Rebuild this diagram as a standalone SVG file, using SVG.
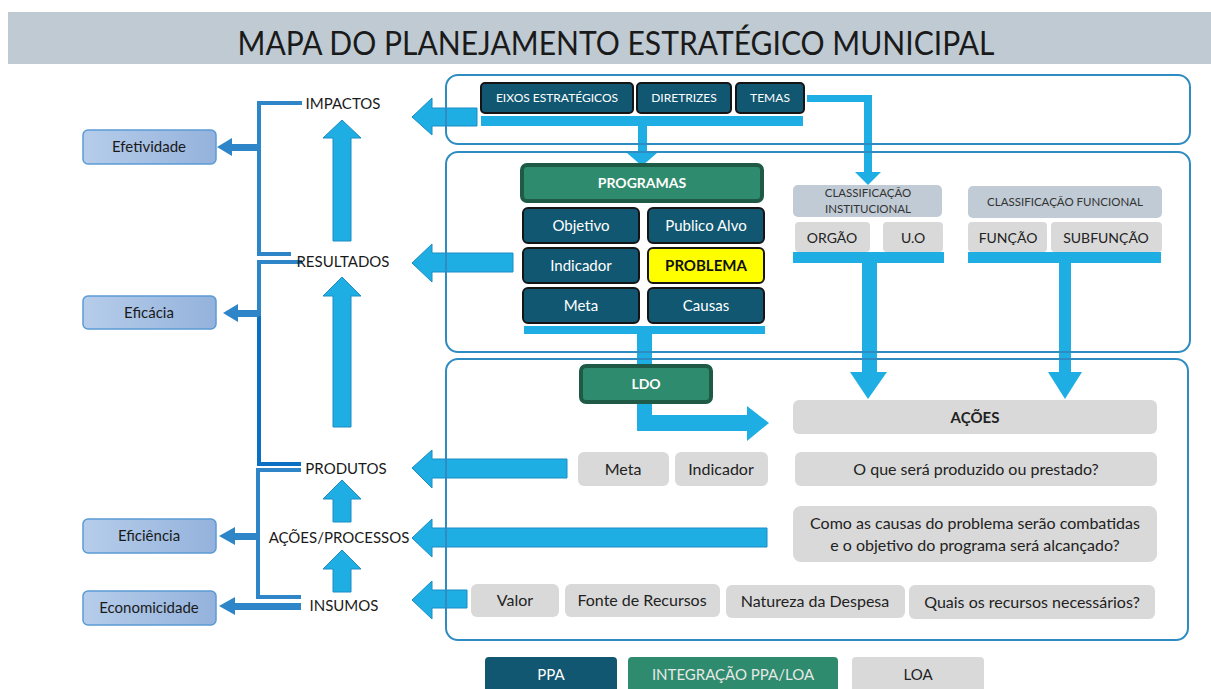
<svg xmlns="http://www.w3.org/2000/svg" width="1211" height="689" viewBox="0 0 1211 689">
<defs>
<linearGradient id="gb" x1="0" y1="0" x2="1" y2="0"><stop offset="0" stop-color="#b6cdea"/><stop offset="1" stop-color="#94b2dc"/></linearGradient>
<style>
text{font-family:Lato,"Open Sans","Liberation Sans",sans-serif;text-anchor:middle}
.panel{fill:none;stroke:#2f8cc2;stroke-width:2}
.pfill{fill:#fff}
.dk{fill:#115772;stroke:#151515;stroke-width:2}
.gr{fill:#2f8b6d;stroke:#1e5a45;stroke-width:4}
.lg{fill:#d9d9d9}
.bg{fill:#c0cbd5}
.wt{fill:#fff;font-size:15px}
.bk{fill:#222;font-size:16px}
.bar{fill:#1eaee4}
.big{fill:#1eaee4;stroke:#1a8cc2;stroke-width:1}
.br{fill:none;stroke:#2e86c9;stroke-width:4}
.bra{fill:#2e86c9}
.eb{fill:url(#gb);stroke:#5b9bd5;stroke-width:1.5}
.lbl{fill:#1a1a1a;font-size:15px}
</style>
</defs>
<rect x="8" y="12" width="1203" height="52" fill="#bfcad3"/>
<text x="616" y="55" font-size="32" fill="#1a1a1a" textLength="757" lengthAdjust="spacingAndGlyphs">MAPA DO PLANEJAMENTO ESTRATÉGICO MUNICIPAL</text>

<g id="panels-bg">
<rect class="pfill" x="446" y="75" width="744" height="69" rx="12"/>
<rect class="pfill" x="446" y="152" width="744" height="200" rx="12"/>
<rect class="pfill" x="446" y="359" width="742" height="281" rx="12"/>
</g>

<g id="connectors">
<path class="br" d="M302,103 H259 V254 H291"/>
<path class="br" d="M302,262 H259 V318"/>
<path fill="none" stroke="#0a70c4" stroke-width="4" d="M259,316 V464 H301"/>
<path class="br" d="M301,470 H258 V597 H301"/>
<rect class="bra" x="232" y="144" width="27" height="7"/><polygon class="bra" points="232,138 217,147 232,156"/>
<rect class="bra" x="238" y="310" width="21" height="7"/><polygon class="bra" points="238,304 223,313 238,322"/>
<rect class="bra" x="235" y="533" width="23" height="7"/><polygon class="bra" points="235,527 219,536 235,545"/>
<rect class="bra" x="235" y="603" width="66" height="7"/><polygon class="bra" points="235,597 219,606 235,615"/>
<polygon class="big" points="333,241 333,138 323,138 342,120 361,138 351,138 351,241"/>
<polygon class="big" points="333,427 333,296 323,296 342,277 361,296 351,296 351,427"/>
<polygon class="big" points="333,522 333,499 323,499 342,480 361,499 351,499 351,522"/>
<polygon class="big" points="333,592 333,569 323,569 342,550 361,569 351,569 351,592"/>
<polygon class="big" points="477,108 432,108 432,98 412,117 432,135 432,126 477,126"/>
<polygon class="big" points="513,253 432,253 432,244 412,263 432,282 432,272 513,272"/>
<polygon class="big" points="567,459 432,459 432,450 412,468 432,488 432,478 567,478"/>
<polygon class="big" points="767,528 432,528 432,519 412,538 432,557 432,547 767,547"/>
<polygon class="big" points="467,590 432,590 432,581 412,600 432,619 432,608 467,608"/>
<rect class="bar" x="481" y="116" width="322" height="10"/>
<rect class="bar" x="638" y="126" width="9" height="28"/>
<polygon class="bar" points="627,153 657,153 642,166"/>
<rect class="bar" x="807" y="95" width="65" height="7"/>
<rect class="bar" x="864" y="95" width="8" height="78"/>
<polygon class="bar" points="855,172 881,172 868,185"/>
<rect class="bar" x="524" y="326" width="241" height="8"/>
<rect class="bar" x="637" y="334" width="15" height="30"/>
<path class="bar" d="M637,403 H652 V415 H747 V406 L769,423 L747,441 V431 H637 Z"/>
<rect class="bar" x="793" y="252" width="151" height="11"/>
<rect class="bar" x="862" y="263" width="15" height="110"/>
<polygon class="bar" points="850,372 887,372 868,399"/>
<rect class="bar" x="968" y="252" width="193" height="11"/>
<rect class="bar" x="1059" y="263" width="12" height="110"/>
<polygon class="bar" points="1048,372 1082,372 1065,399"/>
</g>

<g id="panels">
<rect class="panel" x="446" y="75" width="744" height="69" rx="12"/>
<rect class="panel" x="446" y="152" width="744" height="200" rx="12"/>
<rect class="panel" x="446" y="359" width="742" height="281" rx="12"/>
</g>

<g id="n-eixos"><rect class="dk" x="481" y="83" width="152" height="30" rx="4"/><text class="wt" x="557" y="102" style="font-size:12px">EIXOS ESTRATÉGICOS</text></g>
<g id="n-diretrizes"><rect class="dk" x="637" y="83" width="94" height="30" rx="4"/><text class="wt" x="684" y="102" style="font-size:12px">DIRETRIZES</text></g>
<g id="n-temas"><rect class="dk" x="736" y="83" width="68" height="30" rx="4"/><text class="wt" x="770" y="102" style="font-size:12px">TEMAS</text></g>

<g id="n-programas"><rect class="gr" x="522" y="165" width="240" height="36" rx="5"/><text class="wt" x="642" y="188" font-weight="bold" style="font-size:14px">PROGRAMAS</text></g>
<g id="n-objetivo"><rect class="dk" x="523" y="208" width="116" height="35" rx="5"/><text class="wt" x="581" y="231">Objetivo</text></g>
<g id="n-publico"><rect class="dk" x="648" y="208" width="116" height="35" rx="5"/><text class="wt" x="706" y="231">Publico Alvo</text></g>
<g id="n-indicador"><rect class="dk" x="523" y="248" width="116" height="35" rx="5"/><text class="wt" x="581" y="271">Indicador</text></g>
<g id="n-problema"><rect x="648" y="248" width="116" height="35" rx="5" fill="#ffff00" stroke="#151515" stroke-width="2"/><text x="706" y="271" font-weight="bold" fill="#111" style="font-size:15px">PROBLEMA</text></g>
<g id="n-meta"><rect class="dk" x="523" y="288" width="116" height="35" rx="5"/><text class="wt" x="581" y="311">Meta</text></g>
<g id="n-causas"><rect class="dk" x="648" y="288" width="116" height="35" rx="5"/><text class="wt" x="706" y="311">Causas</text></g>

<g id="n-class-inst"><rect class="bg" x="793" y="185" width="149" height="32" rx="5"/><text x="868" y="197" fill="#333" style="font-size:11.5px">CLASSIFICAÇÃO</text><text x="868" y="213" fill="#333" style="font-size:11.5px">INSTITUCIONAL</text></g>
<g id="n-class-func"><rect class="bg" x="968" y="186" width="194" height="32" rx="5"/><text x="1065" y="206" fill="#333" style="font-size:11.5px">CLASSIFICAÇÃO FUNCIONAL</text></g>
<g id="n-orgao"><rect class="lg" x="795" y="222" width="75" height="30" rx="4"/><text class="bk" x="832" y="243" style="font-size:14px">ORGÃO</text></g>
<g id="n-uo"><rect class="lg" x="883" y="222" width="60" height="30" rx="4"/><text class="bk" x="913" y="243" style="font-size:14px">U.O</text></g>
<g id="n-funcao"><rect class="lg" x="968" y="222" width="79" height="30" rx="4"/><text class="bk" x="1008" y="243" style="font-size:14px">FUNÇÃO</text></g>
<g id="n-subfuncao"><rect class="lg" x="1051" y="222" width="111" height="30" rx="4"/><text class="bk" x="1106" y="243" style="font-size:14px">SUBFUNÇÃO</text></g>

<g id="n-ldo"><rect class="gr" x="581" y="366" width="130" height="36" rx="5"/><text class="wt" x="646" y="389" font-weight="bold" style="font-size:14px">LDO</text></g>
<g id="n-acoes"><rect class="lg" x="793" y="400" width="364" height="34" rx="6"/><text class="bk" x="975" y="423" font-weight="bold" style="font-size:15px">AÇÕES</text></g>
<g id="n-meta2"><rect class="lg" x="578" y="452" width="91" height="34" rx="6"/><text class="bk" x="623" y="475">Meta</text></g>
<g id="n-indicador2"><rect class="lg" x="675" y="452" width="93" height="34" rx="6"/><text class="bk" x="721" y="475">Indicador</text></g>
<g id="n-oque"><rect class="lg" x="795" y="452" width="362" height="34" rx="6"/><text class="bk" x="976" y="475">O que será produzido ou prestado?</text></g>
<g id="n-como"><rect class="lg" x="793" y="506" width="364" height="56" rx="8"/><text class="bk" x="975" y="529">Como as causas do problema serão combatidas</text><text class="bk" x="975" y="551">e o objetivo do programa será alcançado?</text></g>
<g id="n-valor"><rect class="lg" x="471" y="584" width="88" height="33" rx="6"/><text class="bk" x="515" y="606">Valor</text></g>
<g id="n-fonte"><rect class="lg" x="565" y="584" width="155" height="33" rx="6"/><text class="bk" x="642" y="606">Fonte de Recursos</text></g>
<g id="n-natureza"><rect class="lg" x="726" y="585" width="179" height="33" rx="6"/><text class="bk" x="815" y="607">Natureza da Despesa</text></g>
<g id="n-quais"><rect class="lg" x="909" y="585" width="246" height="34" rx="6"/><text class="bk" x="1032" y="608">Quais os recursos necessários?</text></g>

<g id="n-impactos"><text class="lbl" x="343" y="109">IMPACTOS</text></g>
<g id="n-resultados"><text class="lbl" x="343" y="267">RESULTADOS</text></g>
<g id="n-produtos"><text class="lbl" x="346" y="474">PRODUTOS</text></g>
<g id="n-acoesproc"><text class="lbl" x="339" y="543">AÇÕES/PROCESSOS</text></g>
<g id="n-insumos"><text class="lbl" x="344" y="611">INSUMOS</text></g>

<g id="n-efetividade"><rect class="eb" x="83" y="130" width="133" height="34" rx="5"/><text class="lbl" x="149" y="152">Efetividade</text></g>
<g id="n-eficacia"><rect class="eb" x="83" y="296" width="133" height="33" rx="5"/><text class="lbl" x="149" y="318">Eficácia</text></g>
<g id="n-eficiencia"><rect class="eb" x="83" y="519" width="133" height="34" rx="5"/><text class="lbl" x="149" y="541">Eficiência</text></g>
<g id="n-economicidade"><rect class="eb" x="83" y="591" width="133" height="34" rx="5"/><text class="lbl" x="149" y="613">Economicidade</text></g>

<g id="legend">
<rect x="485" y="657" width="132" height="40" rx="4" fill="#115772"/><text x="551" y="680" fill="#fff" style="font-size:15px">PPA</text>
<rect x="628" y="657" width="210" height="40" rx="4" fill="#2f8b6d"/><text x="733" y="680" fill="#e8e8e8" style="font-size:15px">INTEGRAÇÃO PPA/LOA</text>
<rect x="852" y="657" width="132" height="40" rx="4" fill="#d9d9d9"/><text x="918" y="680" fill="#222" style="font-size:15px">LOA</text>
</g>
</svg>
